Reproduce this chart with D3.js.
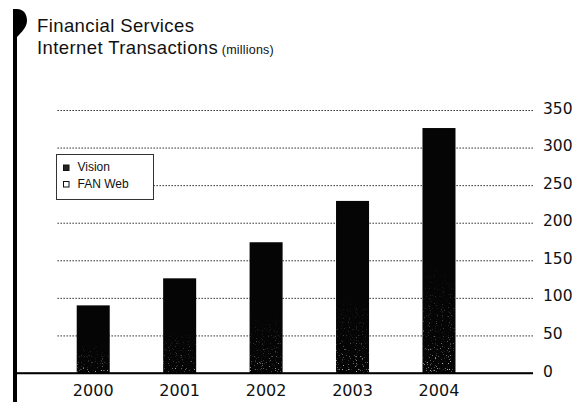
<!DOCTYPE html>
<html>
<head>
<meta charset="utf-8">
<script src="https://cdn.jsdelivr.net/npm/d3@7"></script>
<style>
  html, body { margin: 0; padding: 0; background: #fff; }
  svg { display: block; }
</style>
</head>
<body>
<svg id="chart" width="578" height="402"></svg>
<script>
// Internet transactions (millions) by year
const years = ["2000", "2001", "2002", "2003", "2004"];
const vision = [90, 126, 174, 229, 326];
const yTicks = [0, 50, 100, 150, 200, 250, 300, 350];
const legendLabels = ["Vision", "FAN Web"];
const titleLines = ["Financial Services", "Internet Transactions"];
const titleUnit = "(millions)";

const svg = d3.select("#chart");
const W = 578, H = 402;
const plotLeft = 57, plotRight = 533, axisLeft = 17;

const x = d3.scaleBand().domain(years).range([50, 482.2]).paddingInner(0.618).paddingOuter(0.309);
const y = d3.scaleLinear().domain([0, 350]).range([373, 110]);

const defs = svg.append("defs");

// sparse grey specks for the printed-bar texture
const grain = defs.append("filter").attr("id", "grain")
  .attr("x", 0).attr("y", 0).attr("width", 1).attr("height", 1);
grain.append("feTurbulence").attr("type", "fractalNoise")
  .attr("baseFrequency", 0.85).attr("numOctaves", 1).attr("seed", 7).attr("result", "noise");
grain.append("feColorMatrix").attr("in", "noise").attr("type", "matrix")
  .attr("values", "0 0 0 0 0.55  0 0 0 0 0.55  0 0 0 0 0.55  9 0 0 0 -5.6").attr("result", "specks");
grain.append("feComposite").attr("in", "specks").attr("in2", "SourceGraphic").attr("operator", "in");

// specks fade in toward the foot of each bar
const fadeGrad = defs.append("linearGradient").attr("id", "fadeGrad")
  .attr("x1", 0).attr("y1", 0).attr("x2", 0).attr("y2", 1);
fadeGrad.append("stop").attr("offset", "0.55").attr("stop-color", "#000");
fadeGrad.append("stop").attr("offset", "0.85").attr("stop-color", "#666");
fadeGrad.append("stop").attr("offset", "1").attr("stop-color", "#fff");
const fade = defs.append("mask").attr("id", "fade").attr("maskContentUnits", "objectBoundingBox");
fade.append("rect").attr("x", 0).attr("y", 0).attr("width", 1).attr("height", 1).attr("fill", "url(#fadeGrad)");

// gridlines and right-hand value labels
const yAxis = d3.axisRight(y).tickValues(yTicks).tickSize(-(plotRight - plotLeft)).tickPadding(10);
const gy = svg.append("g").attr("transform", `translate(${plotRight},0)`).call(yAxis);
gy.select(".domain").remove();
gy.selectAll(".tick line")
  .attr("stroke", "#3a3a3a").attr("stroke-width", 1).attr("stroke-dasharray", "1.6,1.4");
gy.selectAll(".tick text")
  .attr("dy", "0.2em")
  .attr("fill", "#111")
  .style("font-family", "'DejaVu Sans', sans-serif").style("font-size", "15.5px");
gy.selectAll(".tick").filter(d => d === 0).select("line")
  .attr("x2", -(plotRight - axisLeft)).attr("stroke", "#000").attr("stroke-width", 1.6)
  .attr("stroke-dasharray", null);

// bars
const data = years.map((yr, i) => ({ year: yr, value: vision[i] }));
const bars = svg.append("g");
bars.selectAll("rect.bar").data(data).join("rect").attr("class", "bar")
  .attr("x", d => x(d.year)).attr("width", x.bandwidth())
  .attr("y", d => y(d.value)).attr("height", d => y(0) - y(d.value))
  .attr("fill", "#050505");
bars.selectAll("rect.grain").data(data).join("rect").attr("class", "grain")
  .attr("x", d => x(d.year)).attr("width", x.bandwidth())
  .attr("y", d => y(d.value)).attr("height", d => y(0) - y(d.value))
  .attr("fill", "#fff").attr("filter", "url(#grain)").attr("mask", "url(#fade)");

// baseline drawn over the bar feet
svg.append("line").attr("x1", axisLeft).attr("x2", plotRight)
  .attr("y1", y(0)).attr("y2", y(0)).attr("stroke", "#000").attr("stroke-width", 1.6);

// year labels
const xAxis = d3.axisBottom(x).tickSize(0).tickPadding(12);
const gx = svg.append("g").attr("transform", `translate(0,${y(0)})`).call(xAxis);
gx.select(".domain").remove();
gx.selectAll(".tick text").attr("fill", "#111")
  .style("font-family", "'DejaVu Sans', sans-serif").style("font-size", "16px");

// legend
const lg = svg.append("g");
lg.append("rect").attr("x", 56.5).attr("y", 154.5).attr("width", 97).attr("height", 45)
  .attr("fill", "#fff").attr("stroke", "#333").attr("stroke-width", 1);
const legendFills = ["#222", "#fff"];
legendLabels.forEach((lab, i) => {
  const cy = 167.5 + i * 16.5;
  lg.append("rect").attr("x", 63.5).attr("y", cy - 2.5).attr("width", 5.5).attr("height", 5.5)
    .attr("fill", legendFills[i]).attr("stroke", "#111").attr("stroke-width", 1);
  lg.append("text").attr("x", 77.5).attr("y", cy + 3.5).text(lab)
    .attr("fill", "#111")
    .style("font-family", "'Liberation Sans', Arial, sans-serif").style("font-size", "12px");
});

// title with its flag marker
svg.append("rect").attr("x", 13).attr("y", 10).attr("width", 4).attr("height", H - 10).attr("fill", "#000");
svg.append("path")
  .attr("d", "M13,9 L17,9 C23.5,9 27,14 27,20.5 C27,27.5 21.5,32 17,37 L13,37 Z")
  .attr("fill", "#000");
const title = svg.append("g")
  .style("font-family", "'Liberation Sans', Arial, sans-serif").attr("fill", "#111");
title.append("text").attr("x", 37).attr("y", 31.5).text(titleLines[0])
  .style("font-size", "18.5px").style("letter-spacing", "0.4px");
const t2 = title.append("text").attr("x", 37).attr("y", 53.5).style("font-size", "18.5px").style("letter-spacing", "0.4px");
t2.append("tspan").text(titleLines[1]);
t2.append("tspan").text(" " + titleUnit).style("font-size", "12.5px").style("letter-spacing", "0.2px");
</script>
</body>
</html>
